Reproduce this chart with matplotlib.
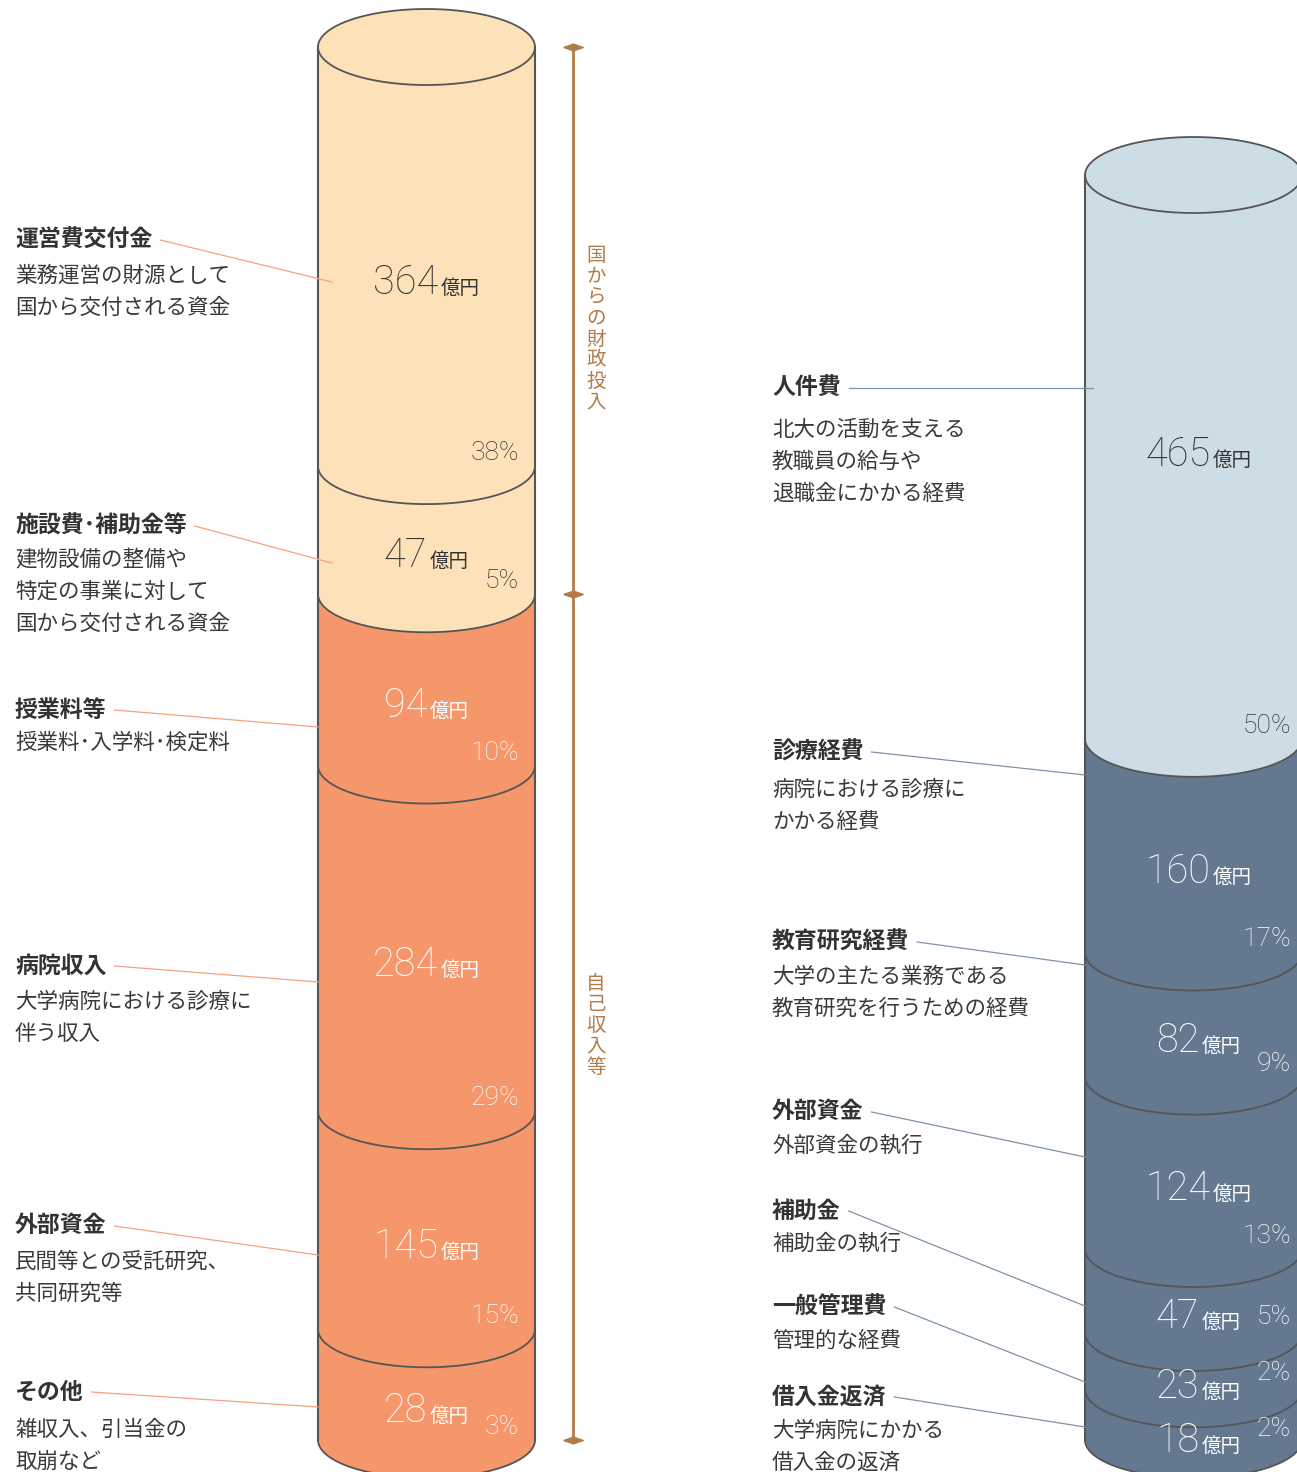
import numpy as np
import matplotlib.pyplot as plt
from matplotlib.offsetbox import TextArea, HPacker, AnnotationBbox

plt.rcParams['font.family'] = ['Noto Sans CJK JP', 'DejaVu Sans']
NUMFONT = ['Roboto', 'DejaVu Sans']

# 収入（億円）
in_names = ['運営費交付金', '施設費･補助金等', '授業料等', '病院収入', '外部資金', 'その他']
in_desc = [['業務運営の財源として', '国から交付される資金'],
           ['建物設備の整備や', '特定の事業に対して', '国から交付される資金'],
           ['授業料･入学料･検定料'],
           ['大学病院における診療に', '伴う収入'],
           ['民間等との受託研究、', '共同研究等'],
           ['雑収入、引当金の', '取崩など']]
in_values = [364, 47, 94, 284, 145, 28]
in_pct = [38, 5, 10, 29, 15, 3]
in_group = ['国', '国', '自己', '自己', '自己', '自己']
group_names = ['国からの財政投入', '自己収入等']

# 支出（億円）
out_names = ['人件費', '診療経費', '教育研究経費', '外部資金', '補助金', '一般管理費', '借入金返済']
out_desc = [['北大の活動を支える', '教職員の給与や', '退職金にかかる経費'],
            ['病院における診療に', 'かかる経費'],
            ['大学の主たる業務である', '教育研究を行うための経費'],
            ['外部資金の執行'],
            ['補助金の執行'],
            ['管理的な経費'],
            ['大学病院にかかる', '借入金の返済']]
out_values = [465, 160, 82, 124, 47, 23, 18]
out_pct = [50, 17, 9, 13, 5, 2, 2]

# レイアウト（ピクセル座標）
W, H = 1297, 1472
EDGE = '#555555'
DARK = '#333333'

fig = plt.figure(figsize=(W / 100, H / 100), dpi=100)
ax = fig.add_axes([0, 0, 1, 1])
ax.set_xlim(0, W)
ax.set_ylim(H, 0)
ax.axis('off')


def cylinder(x0, width, y_top, y_bot, values, colors, floor, ry=38):
    n = len(values)
    k = (y_bot - y_top - floor * n) / sum(values)
    heights = [floor + k * v for v in values]
    b = np.concatenate([[y_top], y_top + np.cumsum(heights)])
    cx = x0 + width / 2
    rx = width / 2
    t = np.linspace(0, np.pi, 100)
    # 下の段から順に描く
    for i in reversed(range(n)):
        arc_x = cx + rx * np.cos(t)
        arc_y = b[i + 1] + ry * np.sin(t)
        px = np.concatenate([[x0, x0 + width], arc_x, [x0]])
        py = np.concatenate([[b[i], b[i]], arc_y, [b[i]]])
        ax.fill(px, py, color=colors[i], lw=0, zorder=2)
        ax.plot(arc_x, arc_y, color=EDGE, lw=1.3, zorder=3)
    # 上面
    tt = np.linspace(0, 2 * np.pi, 200)
    ax.fill(cx + rx * np.cos(tt), b[0] + ry * np.sin(tt), color=colors[0], lw=0, zorder=2)
    ax.plot(cx + rx * np.cos(tt), b[0] + ry * np.sin(tt), color=EDGE, lw=1.3, zorder=3)
    ax.plot([x0, x0], [b[0], b[-1]], color=EDGE, lw=1.5, zorder=3)
    ax.plot([x0 + width, x0 + width], [b[0], b[-1]], color=EDGE, lw=1.5, zorder=3)
    return b, cx, ry


def value_label(x, y, v, color):
    num = TextArea(str(v), textprops=dict(fontsize=28.5, color=color, fontweight='light',
                                          family=NUMFONT))
    unit = TextArea('億円', textprops=dict(fontsize=14, color=color))
    box = HPacker(children=[num, unit], align='baseline', pad=0, sep=2)
    ab = AnnotationBbox(box, (x, y), box_alignment=(0.5, 0.5), frameon=False, zorder=5)
    ax.add_artist(ab)


def pct_label(x, y, p, color):
    ax.text(x, y, f'{p}%', fontsize=19, color=color, ha='right', va='center',
            fontweight='light', family=NUMFONT, zorder=5)


def side_labels(x, names, descs, head_y, desc_y, ends, lcolor):
    fig.canvas.draw()
    r = fig.canvas.get_renderer()
    inv = ax.transData.inverted()
    for name, desc, hy, dy, end in zip(names, descs, head_y, desc_y, ends):
        t = ax.text(x, hy, name, fontsize=16.5, fontweight='bold', color=DARK, va='center', ha='left')
        for j, line in enumerate(desc):
            ax.text(x, dy + 32 * j, line, fontsize=15.5, color='#3a3a3a', va='center', ha='left')
        bb = t.get_window_extent(renderer=r)
        x1 = inv.transform((bb.x1, bb.y0))[0]
        ax.plot([x1 + 8, end[0]], [hy, end[1]], color=lcolor, lw=0.9, zorder=4)


# 左：収入
in_colors = ['#fde2b9' if g == '国' else '#f5966b' for g in in_group]
in_text = [DARK if g == '国' else 'white' for g in in_group]
bl, cxl, ry = cylinder(318, 217, 47, 1440, in_values, in_colors, floor=85)
for i, (v, p) in enumerate(zip(in_values, in_pct)):
    yc = (bl[i] + bl[i + 1]) / 2 + ry - 12
    value_label(cxl, yc, v, in_text[i])
    pct_label(318 + 217 - 16, bl[i + 1] - 13, p, in_text[i])

# 括弧
BR = '#b27b4a'
n_gov = in_group.count('国')
marks = [bl[0], bl[n_gov], bl[-1]]
ax.plot([573, 573], [bl[0], bl[-1]], color=BR, lw=2, zorder=2)
diamond = [(-1, 0), (0, 0.35), (1, 0), (0, -0.35), (-1, 0)]
ax.plot([573] * 3, marks, ls='none', marker=diamond, ms=14, color=BR, zorder=3)
for (y0, y1), g in zip([(marks[0], marks[1]), (marks[1], marks[2])], group_names):
    ax.text(596, (y0 + y1) / 2 + 8, '\n'.join(g), fontsize=14, color=BR, ha='center', va='center',
            linespacing=1.0)

side_labels(15, in_names, in_desc,
            [240, 526, 710, 966, 1226, 1392],
            [276, 560, 743, 1002, 1262, 1430],
            [(332, 282), (332, 563), (318, 727), (318, 982), (318, 1255), (318, 1407)],
            '#f5a27c')

# 右：支出
out_colors = ['#ccdde6'] + ['#64798f'] * (len(out_values) - 1)
out_text = [DARK] + ['white'] * (len(out_values) - 1)
br, cxr, ry = cylinder(1085, 217, 175, 1440, out_values, out_colors, floor=30)
for i, (v, p) in enumerate(zip(out_values, out_pct)):
    h = br[i + 1] - br[i]
    yc = (br[i] + br[i + 1]) / 2 + ry - (40 if i == 0 else 12)
    value_label(cxr + 5, yc, v, out_text[i])
    if h > 100:
        py = br[i + 1] - 13
    elif h > 70:
        py = yc
    else:
        py = br[i] + 40
    pct_label(1291, py, p, out_text[i])

side_labels(772, out_names, out_desc,
            [388, 752, 942, 1112, 1211, 1307, 1397],
            [430, 790, 977, 1146, 1244, 1341, 1431],
            [(1093, 388), (1085, 775), (1085, 965), (1085, 1157), (1085, 1306), (1085, 1382), (1085, 1427)],
            '#7d93a8')

fig.savefig('out.png', dpi=100)
